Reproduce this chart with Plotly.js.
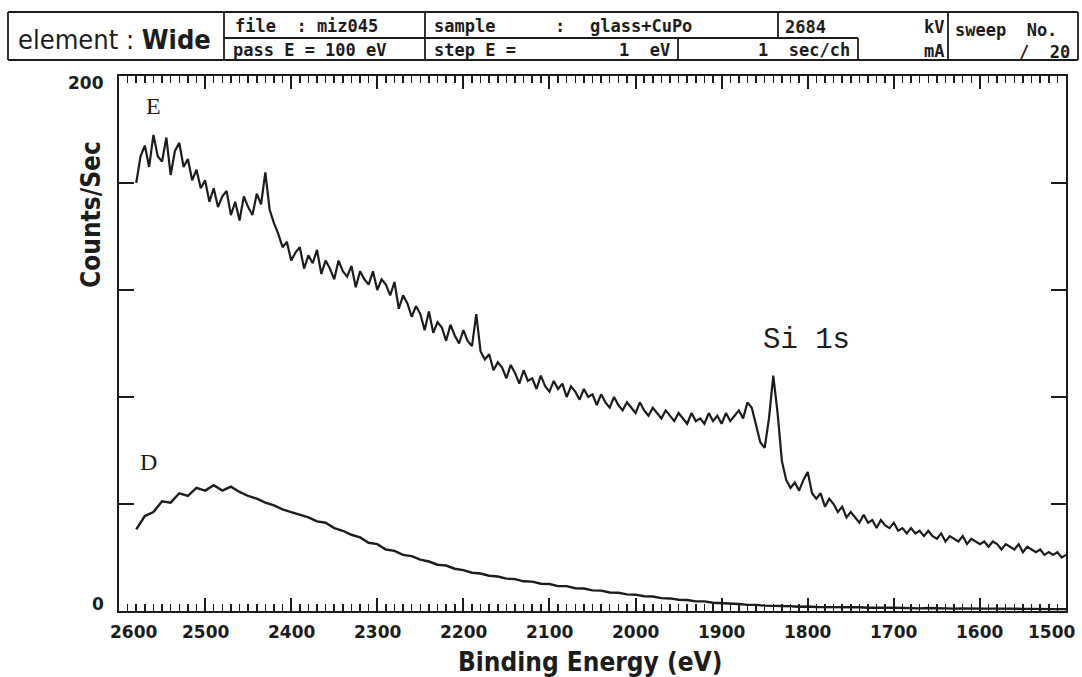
<!DOCTYPE html>
<html>
<head>
<meta charset="utf-8">
<script src="https://cdn.plot.ly/plotly-3.0.1.min.js"></script>
<style>html,body{margin:0;padding:0;background:#fff;}#chart{width:1082px;height:677px;}</style>
</head>
<body>
<div id="chart"></div>
<script>
// ---- Data ----
// Spectrum E: counts/sec every 5 eV from 2580 eV down to 1500 eV (rows of 50 eV)
const startE = 2580, stepE = 5;
const countsE = [
160,170,174,166,178,170,168,177,163,172,
175,166,169,161,165,158,161,153,158,151,
155,157,148,153,146,155,151,148,156,152,
164,150,145,141,136,138,131,134,136,128,
133,130,135,126,131,128,124,131,127,125,
129,121,127,124,122,127,120,124,122,118,
123,113,118,115,110,114,111,105,112,104,
108,106,101,107,103,100,105,101,99,111,
97,94,96,90,93,91,87,92,89,85,
90,86,87,83,88,84,82,86,83,85,
80,84,82,79,83,80,81,77,81,78,
76,80,77,75,78,76,74,78,75,73,
76,74,72,75,73,71,74,72,70,74,
71,72,70,74,71,73,70,74,71,73,
75,72,78,76,69,63,61,72,88,74,
56,49,46,48,45,49,52,44,42,44,
39,42,40,37,39,35,37,35,33,36,
33,34,31,34,32,31,33,30,31,29,
31,29,30,28,30,28,27,29,26,28,
27,26,28,25,27,26,25,26,24,26,
25,23,25,24,23,25,22,24,23,22,
23,21,22,21,22,20,21
];
// Spectrum D: counts/sec every 10 eV from 2580 eV down to 1500 eV (rows of 100 eV)
const startD = 2580, stepD = 10;
const countsD = [
30.5,35.5,37,41,40.5,44,43,46,45,47,
45,46.5,44.5,43,42,40.5,39.5,38,37,36,
35,33.5,33,31,30,28.5,27.5,25.5,25,23,
22.5,21,20.5,19.2,18.5,17.3,17,15.8,15.3,14.3,
14,13.2,12.9,12.1,11.9,11.1,11,10.2,10.1,9.3,
9.3,8.5,8.4,7.7,7.6,6.9,6.8,6.2,6.1,5.5,
5.4,4.8,4.7,4.2,4.1,3.6,3.6,3.1,3.0,2.7,
2.6,2.3,2.3,2.0,2.0,1.8,1.8,1.6,1.7,1.5,
1.5,1.4,1.5,1.3,1.4,1.2,1.3,1.2,1.2,1.1,
1.2,1.0,1.1,1.0,1.1,0.9,1.0,0.9,1.0,0.9,
0.9,0.8,0.9,0.8,0.8,0.7,0.8,0.7,0.7
];
const xTickVals = [2600,2500,2400,2300,2200,2100,2000,1900,1800,1700,1600,1500];
const xTickText = ['2600','2500','2400','2300','2200','2100','2000','1900','1800','1700','1600','1500'];
const yTickVals = [0,40,80,120,160,200];
const yTickText = ['0','','','','','200'];

const energyE = countsE.map((_, i) => startE - stepE * i);
const energyD = countsD.map((_, i) => startD - stepD * i);

// ---- Layout helpers (pixel -> paper) ----
const L = 119, R = 1066, T = 76, B = 611;
const W = 1082, H = 677;
const px = x => (x - L) / (R - L);
const py = y => (B - y) / (B - T);

const ink = '#1c1c1c';
const monoB = {family: 'DejaVu Sans Mono', size: 17, color: ink, weight: 'bold'};
const cond = {family: 'DejaVu Sans Condensed, sans-serif', size: 26, color: ink, weight: 'bold'};
const condReg = {family: 'DejaVu Sans Condensed, sans-serif', size: 27, color: ink};
const tickFont = {family: 'DejaVu Sans', size: 17, color: ink, weight: 'bold'};

const traces = [
  {x: energyE, y: countsE, type: 'scatter', mode: 'lines', line: {color: ink, width: 2.2}, hoverinfo: 'skip', showlegend: false},
  {x: energyD, y: countsD, type: 'scatter', mode: 'lines', line: {color: ink, width: 2.4}, hoverinfo: 'skip', showlegend: false}
];

function hline(x0, x1, y) {
  return {type: 'line', xref: 'paper', yref: 'paper', x0: px(x0), x1: px(x1), y0: py(y), y1: py(y),
          line: {color: ink, width: 1.8}};
}
function vline(x, y0, y1) {
  return {type: 'line', xref: 'paper', yref: 'paper', x0: px(x), x1: px(x), y0: py(y0), y1: py(y1),
          line: {color: ink, width: 1.8}};
}
function txt(text, x, y, anchor, font) {
  return {text: text, xref: 'paper', yref: 'paper', x: px(x), y: py(y), xanchor: anchor, yanchor: 'middle',
          showarrow: false, font: font};
}

const hTop = 12, hMid = 38, hBot = 60;
const shapes = [
  hline(8, 1078, hTop),
  hline(8, 1078, hBot),
  vline(8, hTop, hBot),
  vline(1078, hTop, hBot),
  vline(224, hTop, hBot),
  vline(425, hTop, hBot),
  vline(778, hTop, hMid),
  vline(948, hTop, hBot),
  hline(224, 858, hMid),
  vline(678, hMid, hBot),
  vline(858, hMid, hBot)
];

const annotations = [
  txt('element : <b>Wide</b>', 114, 39, 'center', condReg),
  txt('file  : miz045', 233, 26, 'left', monoB),
  txt('pass E = 100 eV', 231, 50, 'left', monoB),
  txt('sample', 432, 26, 'left', monoB),
  txt(':', 560, 26, 'center', monoB),
  txt('glass+CuPo', 588, 26, 'left', monoB),
  txt('step E =', 432, 50, 'left', monoB),
  txt('1  eV', 672, 50, 'right', monoB),
  txt('1  sec/ch', 852, 50, 'right', monoB),
  txt('2684', 783, 27, 'left', monoB),
  txt('kV', 946, 27, 'right', monoB),
  txt('mA', 946, 51, 'right', monoB),
  txt('sweep  No.', 953, 30, 'left', monoB),
  txt('/  20', 1072, 52, 'right', monoB),
  {text: 'Counts/Sec', xref: 'paper', yref: 'paper', x: px(91), y: py(215),
   xanchor: 'center', yanchor: 'middle', textangle: -90, showarrow: false, font: cond},
  txt('Binding Energy (eV)', 590, 662, 'center', cond),
  txt('E', 153, 106, 'center', {family: 'Liberation Serif', size: 24, color: ink}),
  txt('D', 148, 462, 'center', {family: 'Liberation Serif', size: 24, color: ink}),
  txt('Si 1s', 806, 340, 'center', {family: 'Liberation Mono', size: 29, color: ink})
];

// x tick labels placed on the data axis (edge labels nudged inward like the reference)
xTickVals.forEach((v, i) => {
  let shift = 0;
  if (i === 0) shift = 14;
  if (i === xTickVals.length - 1) shift = -15;
  annotations.push({text: xTickText[i], xref: 'x', yref: 'paper', x: v, y: py(632), xshift: shift,
    xanchor: 'center', yanchor: 'middle', showarrow: false, font: tickFont});
});
// y tick labels (only 0 and 200 are labelled)
yTickVals.forEach((v, i) => {
  if (!yTickText[i]) return;
  const yoff = v === 200 ? -7 : 7;
  annotations.push({text: yTickText[i], xref: 'paper', yref: 'y', x: px(106), y: v, yshift: yoff,
    xanchor: 'right', yanchor: 'middle', showarrow: false, font: tickFont});
});

const layout = {
  width: W, height: H,
  margin: {l: L, r: W - R, t: T, b: H - B},
  paper_bgcolor: '#fff', plot_bgcolor: '#fff',
  showlegend: false,
  xaxis: {
    range: [2600, 1500], autorange: false,
    tickmode: 'array', tickvals: xTickVals, showticklabels: false,
    ticks: 'inside', ticklen: 13, tickwidth: 2, tickcolor: ink,
    minor: {dtick: 10, ticks: 'inside', ticklen: 7, tickwidth: 1.5, tickcolor: ink},
    showline: true, linecolor: ink, linewidth: 2, mirror: 'ticks',
    showgrid: false, zeroline: false
  },
  yaxis: {
    range: [0, 200], autorange: false,
    tickmode: 'array', tickvals: yTickVals, showticklabels: false,
    ticks: 'inside', ticklen: 15, tickwidth: 2, tickcolor: ink,
    showline: true, linecolor: ink, linewidth: 2, mirror: 'ticks',
    showgrid: false, zeroline: false
  },
  shapes: shapes,
  annotations: annotations
};

Plotly.newPlot('chart', traces, layout, {staticPlot: true, displayModeBar: false});
</script>
</body>
</html>
